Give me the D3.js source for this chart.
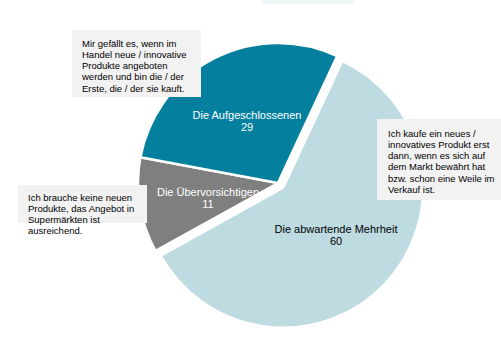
<!DOCTYPE html>
<html><head><meta charset="utf-8">
<script src="https://cdn.jsdelivr.net/npm/d3@7"></script>
<style>body{margin:0;background:#fff}svg{display:block;font-family:"Liberation Sans",Arial,sans-serif}</style>
</head><body>
<svg id="c" width="501" height="352"></svg>
<script>
const categories = ["Die abwartende Mehrheit", "Die Übervorsichtigen", "Die Aufgeschlossenen"];
const values = [60, 11, 29];
const colors = ["#bedbe2", "#7f7f7f", "#047f9e"];
const labelColors = ["#000", "#fff", "#fff"];
const notes = [
  ["Ich kaufe ein neues /", "innovatives Produkt erst", "dann, wenn es sich auf", "dem Markt bewährt hat", "bzw. schon eine Weile im", "Verkauf ist."],
  ["Ich brauche keine neuen", "Produkte, das Angebot in", "Supermärkten ist", "ausreichend."],
  ["Mir gefällt es, wenn im", "Handel neue / innovative", "Produkte angeboten", "werden und bin die / der", "Erste, die / der sie kauft."]
];

const svg = d3.select("#c");
// faint cut-off box at the top
svg.append("rect").attr("x",263).attr("y",0).attr("width",90).attr("height",4).attr("fill","#eef3f6");

const cx = 278, cy = 183, r = 140;
const start = 25 * Math.PI / 180;
const pie = d3.pie().sort(null).startAngle(start).endAngle(start + 2*Math.PI);
const arcs = pie(values);
const arc = d3.arc().innerRadius(0).outerRadius(r);
const explode = [7, 0, 0];
const g = svg.append("g").attr("transform", `translate(${cx},${cy})`);
arcs.forEach((a, i) => {
  const mid = (a.startAngle + a.endAngle) / 2;
  const dx = Math.sin(mid) * explode[i], dy = -Math.cos(mid) * explode[i];
  g.append("path").attr("d", arc(a)).attr("fill", colors[i])
    .attr("stroke", "#fff").attr("stroke-width", 2.5).attr("stroke-linejoin","round")
    .attr("transform", `translate(${dx},${dy})`);
});

// labels
const labelPos = [[336, 229], [208, 192], [247, 115]];
arcs.forEach((a, i) => {
  const t = svg.append("text").attr("text-anchor","middle").attr("font-size",11).attr("fill",labelColors[i]);
  t.append("tspan").attr("x",labelPos[i][0]).attr("y",labelPos[i][1]+4).text(categories[i]);
  t.append("tspan").attr("x",labelPos[i][0]).attr("y",labelPos[i][1]+16).text(values[i]);
});

// note boxes
const boxes = [
  {x:377, y:119, w:124, h:81, tx:388, ty:133},
  {x:18, y:185, w:129, h:38, tx:28, ty:197},
  {x:72, y:30, w:129, h:67, tx:82, ty:43}
];
boxes.forEach((b, i) => {
  svg.append("rect").attr("x",b.x).attr("y",b.y).attr("width",b.w).attr("height",b.h).attr("fill","#f2f2f2");
  const t = svg.append("text").attr("font-size",9.5).attr("fill","#000");
  notes[i].forEach((line, j) => {
    t.append("tspan").attr("x",b.tx).attr("y",b.ty + j*11.3 + 3.5).text(line);
  });
});
</script>
</body></html>
